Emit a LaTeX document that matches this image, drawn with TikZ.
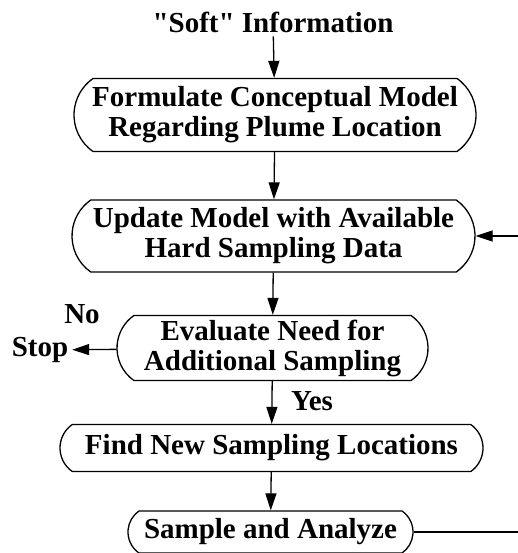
\documentclass[tikz,border=0pt]{standalone}
\usepackage{fontspec}
\newfontfamily\boxfont{Liberation Serif}
\usetikzlibrary{shapes.misc,arrows.meta}

\begin{document}
\begin{tikzpicture}[x=1pt,y=-1pt,line width=1.3pt,
  >={Triangle[length=17pt,width=11pt]},
  every node/.style={font=\boxfont\fontsize{29}{30}\selectfont\bfseries,align=center},
  stepbox/.style={draw,rounded rectangle,rounded rectangle arc length=110,inner sep=0pt}]
\useasboundingbox (0,0) rectangle (518,553);

% boxes of the loop
\node (soft) at (273,22) {"Soft" Information};
\node[stepbox,minimum width=402pt,minimum height=73pt] (formulate) at (275,115)
  {Formulate Conceptual Model\\Regarding Plume Location};
\node[stepbox,minimum width=403pt,minimum height=72pt] (update) at (273.5,236)
  {Update Model with Available\\Hard Sampling Data};
\node[stepbox,minimum width=311pt,minimum height=65pt] (evaluate) at (272.5,348)
  {Evaluate Need for\\Additional Sampling};
\node[stepbox,minimum width=423pt,minimum height=47pt] (find) at (271.5,448)
  {Find New Sampling Locations};
\node[stepbox,minimum width=285pt,minimum height=42pt] (sample) at (270.5,532)
  {Sample and Analyze};

% side labels
\node (stop) at (40,350) {Stop};
\node (no) at (82,314) {No};
\node (yes) at (312,401) {Yes};

% feedback ends at the edge
\coordinate (backA) at (518,532);
\coordinate (backB) at (518,236);

\draw[->] (soft) -- (formulate);
\draw[->] (formulate) -- (update);
\draw[->] (update) -- (evaluate);
\draw[->] (evaluate) -- (stop);
\draw[->] (evaluate) -- (find);
\draw[->] (find) -- (sample);
\draw (sample.east) -- (backA);
\draw[->] (backB) -- (update.east);
\end{tikzpicture}
\end{document}
